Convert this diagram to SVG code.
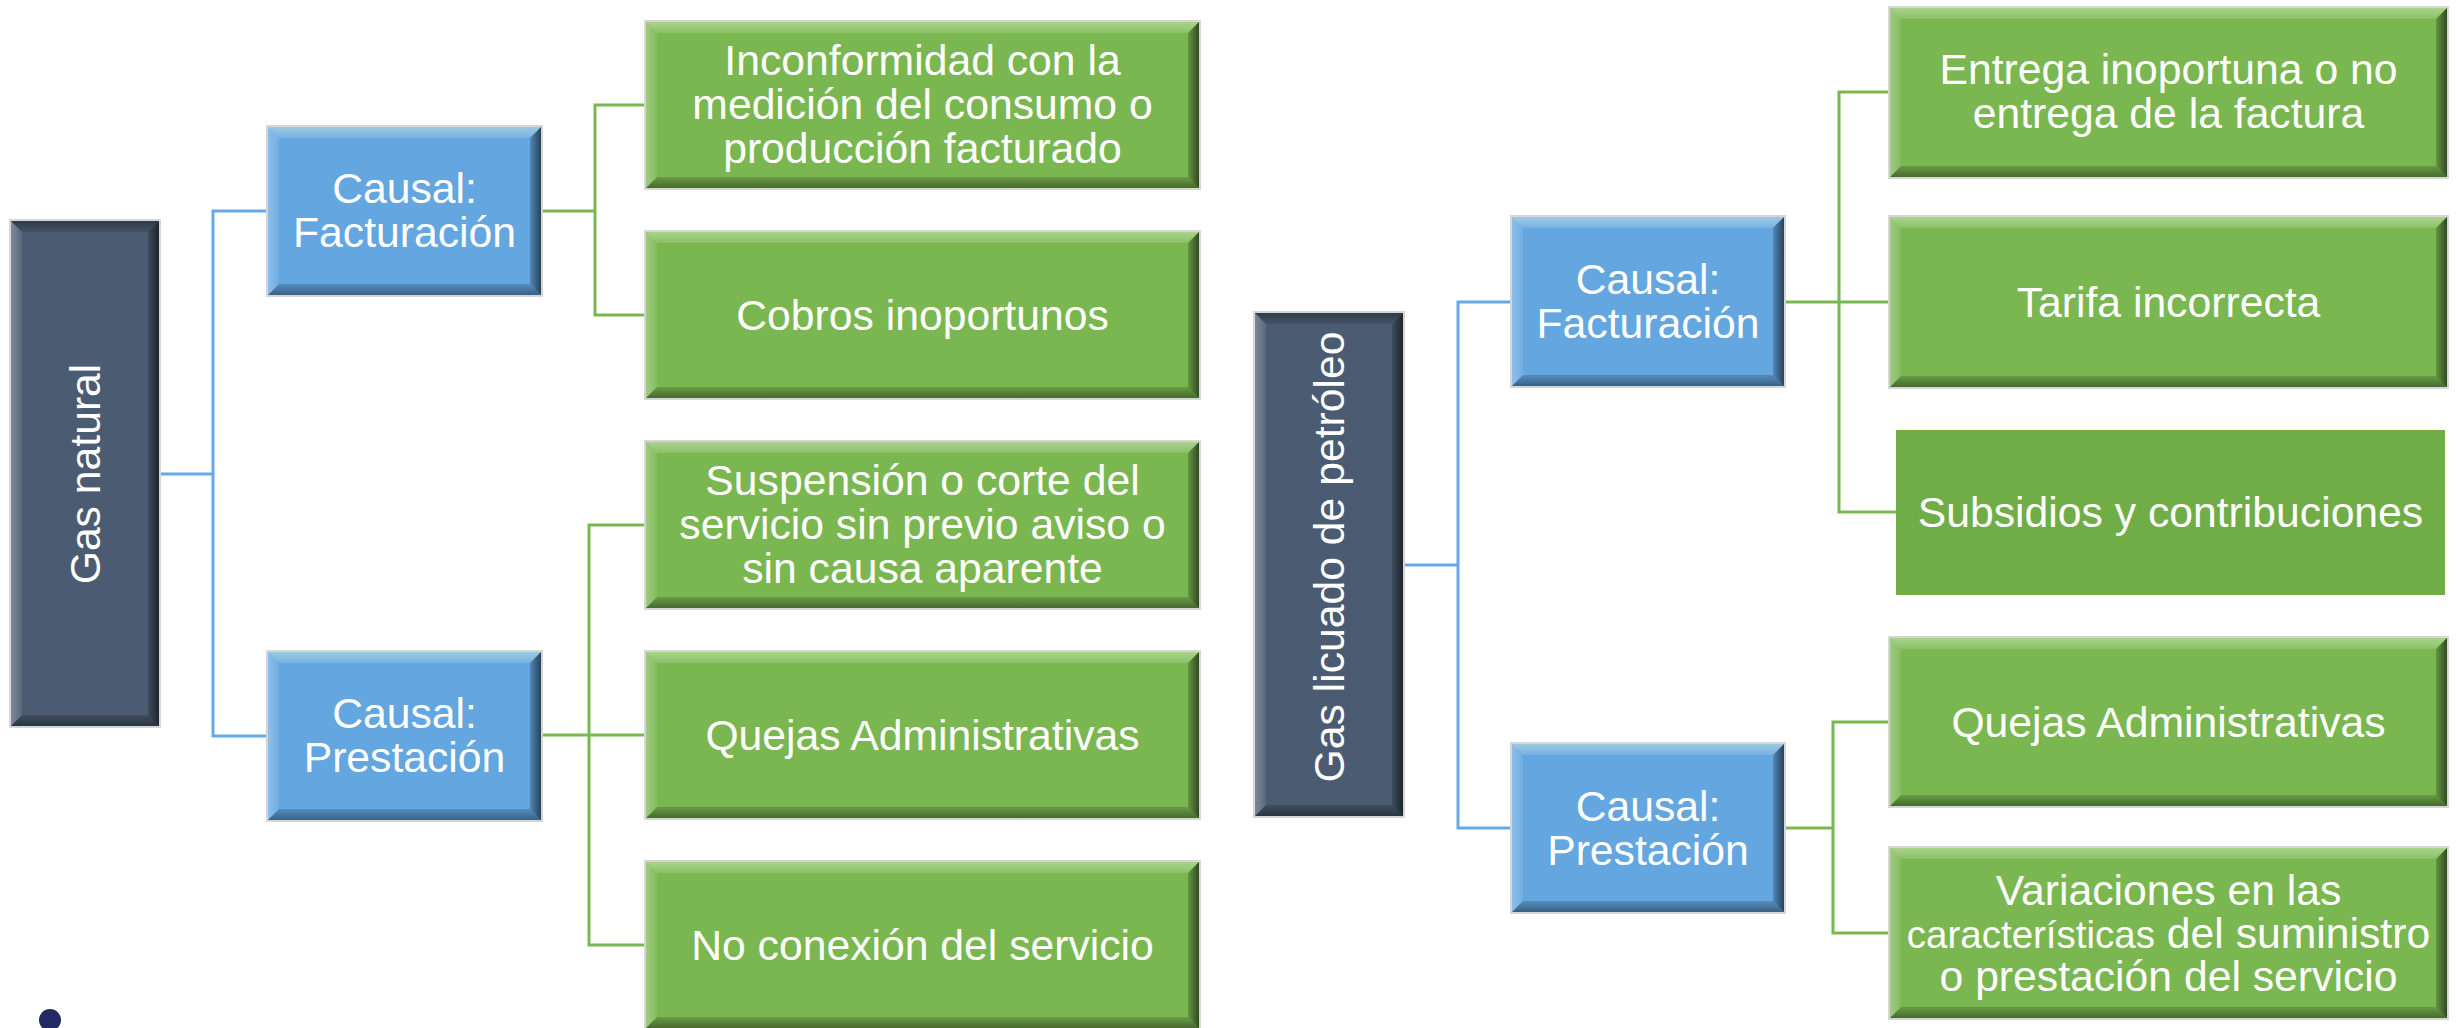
<svg xmlns="http://www.w3.org/2000/svg" width="2456" height="1028" viewBox="0 0 2456 1028">
<defs>
<linearGradient id="gTop" x1="0" y1="0" x2="0" y2="1"><stop offset="0" stop-color="#E8FFD8" stop-opacity="0.42"/><stop offset="1" stop-color="#fff" stop-opacity="0.12"/></linearGradient>
<linearGradient id="gTopDark" x1="0" y1="0" x2="0" y2="1"><stop offset="0" stop-color="#000" stop-opacity="0.35"/><stop offset="1" stop-color="#000" stop-opacity="0.1"/></linearGradient>
<linearGradient id="gLeft" x1="0" y1="0" x2="1" y2="0"><stop offset="0" stop-color="#fff" stop-opacity="0.28"/><stop offset="1" stop-color="#fff" stop-opacity="0.08"/></linearGradient>
<linearGradient id="gRight" x1="1" y1="0" x2="0" y2="0"><stop offset="0" stop-color="#000" stop-opacity="0.6"/><stop offset="1" stop-color="#000" stop-opacity="0.18"/></linearGradient>
<linearGradient id="gBot" x1="0" y1="1" x2="0" y2="0"><stop offset="0" stop-color="#000" stop-opacity="0.42"/><stop offset="1" stop-color="#000" stop-opacity="0.15"/></linearGradient>
</defs>
<style>
.t{font-family:"Liberation Sans",Arial,sans-serif;font-size:42.7px;fill:#fff;text-anchor:middle}
.sm{font-size:38.5px}
.dark{fill:#4B5B71}
.blue{fill:#64A6E0}
.green{fill:#7AB751}
.flat{fill:#70AD47}
.ol{fill:none;stroke:#D6D6D6;stroke-width:2}
.bt{fill:url(#gTop)}
.btd{fill:url(#gTopDark)}
.bl{fill:url(#gLeft)}
.br{fill:url(#gRight)}
.bb{fill:url(#gBot)}
.cb{fill:none;stroke:#67A9E5;stroke-width:3}
.cg{fill:none;stroke:#7AB751;stroke-width:3}
</style>
<rect width="2456" height="1028" fill="#fff"/>

<g id="connectors">
<path class="cb" d="M159,474 H213"/>
<path class="cb" d="M268,211 H213 V736 H268"/>
<path class="cb" d="M1403,565 H1458"/>
<path class="cb" d="M1512,302 H1458 V828 H1512"/>
<path class="cg" d="M541,211 H595"/>
<path class="cg" d="M646,105 H595 V315 H646"/>
<path class="cg" d="M541,735 H646"/>
<path class="cg" d="M646,525 H589 V945 H646"/>
<path class="cg" d="M1784,302 H1890"/>
<path class="cg" d="M1890,92 H1839 V512 H1896"/>
<path class="cg" d="M1784,828 H1833"/>
<path class="cg" d="M1890,722 H1833 V933 H1890"/>
</g>

<g id="gas-natural">
<rect class="ol" x="10" y="220" width="150" height="507"/>
<rect class="dark" x="11" y="221" width="148" height="505"/>
<polygon class="btd" points="11,221 159,221 148,232 22,232"/>
<polygon class="bb" points="11,726 22,715 148,715 159,726"/>
<polygon class="bl" points="11,221 22,232 22,715 11,726"/>
<polygon class="br" points="159,221 159,726 148,715 148,232"/>
<text class="t" transform="translate(100,474) rotate(-90)" x="0" y="0">Gas natural</text>
</g>

<g id="gn-causal-facturacion">
<rect class="ol" x="267" y="126" width="275" height="170"/>
<rect class="blue" x="268" y="127" width="273" height="168"/>
<polygon class="bt" points="268,127 541,127 530,138 279,138"/>
<polygon class="bb" points="268,295 279,284 530,284 541,295"/>
<polygon class="bl" points="268,127 279,138 279,284 268,295"/>
<polygon class="br" points="541,127 541,295 530,284 530,138"/>
<text class="t" x="404.5" y="203">Causal:</text>
<text class="t" x="404.5" y="247">Facturación</text>
</g>

<g id="gn-causal-prestacion">
<rect class="ol" x="267" y="651" width="275" height="170"/>
<rect class="blue" x="268" y="652" width="273" height="168"/>
<polygon class="bt" points="268,652 541,652 530,663 279,663"/>
<polygon class="bb" points="268,820 279,809 530,809 541,820"/>
<polygon class="bl" points="268,652 279,663 279,809 268,820"/>
<polygon class="br" points="541,652 541,820 530,809 530,663"/>
<text class="t" x="404.5" y="728">Causal:</text>
<text class="t" x="404.5" y="772">Prestación</text>
</g>

<g id="gn-inconformidad">
<rect class="ol" x="645" y="21" width="555" height="168"/>
<rect class="green" x="646" y="22" width="553" height="166"/>
<polygon class="bt" points="646,22 1199,22 1188,33 657,33"/>
<polygon class="bb" points="646,188 657,177 1188,177 1199,188"/>
<polygon class="bl" points="646,22 657,33 657,177 646,188"/>
<polygon class="br" points="1199,22 1199,188 1188,177 1188,33"/>
<text class="t" x="922.5" y="75">Inconformidad con la</text>
<text class="t" x="922.5" y="119">medición del consumo o</text>
<text class="t" x="922.5" y="163">producción facturado</text>
</g>

<g id="gn-cobros">
<rect class="ol" x="645" y="231" width="555" height="168"/>
<rect class="green" x="646" y="232" width="553" height="166"/>
<polygon class="bt" points="646,232 1199,232 1188,243 657,243"/>
<polygon class="bb" points="646,398 657,387 1188,387 1199,398"/>
<polygon class="bl" points="646,232 657,243 657,387 646,398"/>
<polygon class="br" points="1199,232 1199,398 1188,387 1188,243"/>
<text class="t" x="922.5" y="330">Cobros inoportunos</text>
</g>

<g id="gn-suspension">
<rect class="ol" x="645" y="441" width="555" height="168"/>
<rect class="green" x="646" y="442" width="553" height="166"/>
<polygon class="bt" points="646,442 1199,442 1188,453 657,453"/>
<polygon class="bb" points="646,608 657,597 1188,597 1199,608"/>
<polygon class="bl" points="646,442 657,453 657,597 646,608"/>
<polygon class="br" points="1199,442 1199,608 1188,597 1188,453"/>
<text class="t" x="922.5" y="495">Suspensión o corte del</text>
<text class="t" x="922.5" y="539">servicio sin previo aviso o</text>
<text class="t" x="922.5" y="583">sin causa aparente</text>
</g>

<g id="gn-quejas">
<rect class="ol" x="645" y="651" width="555" height="168"/>
<rect class="green" x="646" y="652" width="553" height="166"/>
<polygon class="bt" points="646,652 1199,652 1188,663 657,663"/>
<polygon class="bb" points="646,818 657,807 1188,807 1199,818"/>
<polygon class="bl" points="646,652 657,663 657,807 646,818"/>
<polygon class="br" points="1199,652 1199,818 1188,807 1188,663"/>
<text class="t" x="922.5" y="750">Quejas Administrativas</text>
</g>

<g id="gn-no-conexion">
<rect class="ol" x="645" y="861" width="555" height="168"/>
<rect class="green" x="646" y="862" width="553" height="166"/>
<polygon class="bt" points="646,862 1199,862 1188,873 657,873"/>
<polygon class="bb" points="646,1028 657,1017 1188,1017 1199,1028"/>
<polygon class="bl" points="646,862 657,873 657,1017 646,1028"/>
<polygon class="br" points="1199,862 1199,1028 1188,1017 1188,873"/>
<text class="t" x="922.5" y="960">No conexión del servicio</text>
</g>

<g id="gas-licuado">
<rect class="ol" x="1254" y="312" width="150" height="505"/>
<rect class="dark" x="1255" y="313" width="148" height="503"/>
<polygon class="btd" points="1255,313 1403,313 1392,324 1266,324"/>
<polygon class="bb" points="1255,816 1266,805 1392,805 1403,816"/>
<polygon class="bl" points="1255,313 1266,324 1266,805 1255,816"/>
<polygon class="br" points="1403,313 1403,816 1392,805 1392,324"/>
<text class="t" transform="translate(1344,557) rotate(-90)" x="0" y="0">Gas licuado de petróleo</text>
</g>

<g id="gl-causal-facturacion">
<rect class="ol" x="1511" y="216" width="274" height="171"/>
<rect class="blue" x="1512" y="217" width="272" height="169"/>
<polygon class="bt" points="1512,217 1784,217 1773,228 1523,228"/>
<polygon class="bb" points="1512,386 1523,375 1773,375 1784,386"/>
<polygon class="bl" points="1512,217 1523,228 1523,375 1512,386"/>
<polygon class="br" points="1784,217 1784,386 1773,375 1773,228"/>
<text class="t" x="1648" y="294">Causal:</text>
<text class="t" x="1648" y="338">Facturación</text>
</g>

<g id="gl-causal-prestacion">
<rect class="ol" x="1511" y="743" width="274" height="170"/>
<rect class="blue" x="1512" y="744" width="272" height="168"/>
<polygon class="bt" points="1512,744 1784,744 1773,755 1523,755"/>
<polygon class="bb" points="1512,912 1523,901 1773,901 1784,912"/>
<polygon class="bl" points="1512,744 1523,755 1523,901 1512,912"/>
<polygon class="br" points="1784,744 1784,912 1773,901 1773,755"/>
<text class="t" x="1648" y="821">Causal:</text>
<text class="t" x="1648" y="865">Prestación</text>
</g>

<g id="gl-entrega">
<rect class="ol" x="1889" y="7" width="559" height="171"/>
<rect class="green" x="1890" y="8" width="557" height="169"/>
<polygon class="bt" points="1890,8 2447,8 2436,19 1901,19"/>
<polygon class="bb" points="1890,177 1901,166 2436,166 2447,177"/>
<polygon class="bl" points="1890,8 1901,19 1901,166 1890,177"/>
<polygon class="br" points="2447,8 2447,177 2436,166 2436,19"/>
<text class="t" x="2168.5" y="84">Entrega inoportuna o no</text>
<text class="t" x="2168.5" y="128">entrega de la factura</text>
</g>

<g id="gl-tarifa">
<rect class="ol" x="1889" y="216" width="559" height="172"/>
<rect class="green" x="1890" y="217" width="557" height="170"/>
<polygon class="bt" points="1890,217 2447,217 2436,228 1901,228"/>
<polygon class="bb" points="1890,387 1901,376 2436,376 2447,387"/>
<polygon class="bl" points="1890,217 1901,228 1901,376 1890,387"/>
<polygon class="br" points="2447,217 2447,387 2436,376 2436,228"/>
<text class="t" x="2168.5" y="317">Tarifa incorrecta</text>
</g>

<g id="gl-subsidios">
<rect class="flat" x="1896" y="430" width="549" height="165"/>
<text class="t" x="2170.5" y="527">Subsidios y contribuciones</text>
</g>

<g id="gl-quejas">
<rect class="ol" x="1889" y="637" width="559" height="170"/>
<rect class="green" x="1890" y="638" width="557" height="168"/>
<polygon class="bt" points="1890,638 2447,638 2436,649 1901,649"/>
<polygon class="bb" points="1890,806 1901,795 2436,795 2447,806"/>
<polygon class="bl" points="1890,638 1901,649 1901,795 1890,806"/>
<polygon class="br" points="2447,638 2447,806 2436,795 2436,649"/>
<text class="t" x="2168.5" y="737">Quejas Administrativas</text>
</g>

<g id="gl-variaciones">
<rect class="ol" x="1889" y="847" width="559" height="172"/>
<rect class="green" x="1890" y="848" width="557" height="170"/>
<polygon class="bt" points="1890,848 2447,848 2436,859 1901,859"/>
<polygon class="bb" points="1890,1018 1901,1007 2436,1007 2447,1018"/>
<polygon class="bl" points="1890,848 1901,859 1901,1007 1890,1018"/>
<polygon class="br" points="2447,848 2447,1018 2436,1007 2436,859"/>
<text class="t" x="2168.5" y="905">Variaciones en las</text>
<text class="t" x="2168.5" y="948"><tspan class="sm">características</tspan> del suministro</text>
<text class="t" x="2168.5" y="991">o prestación del servicio</text>
</g>

<circle id="dot" cx="50" cy="1020" r="11" fill="#232A63"/>
</svg>
